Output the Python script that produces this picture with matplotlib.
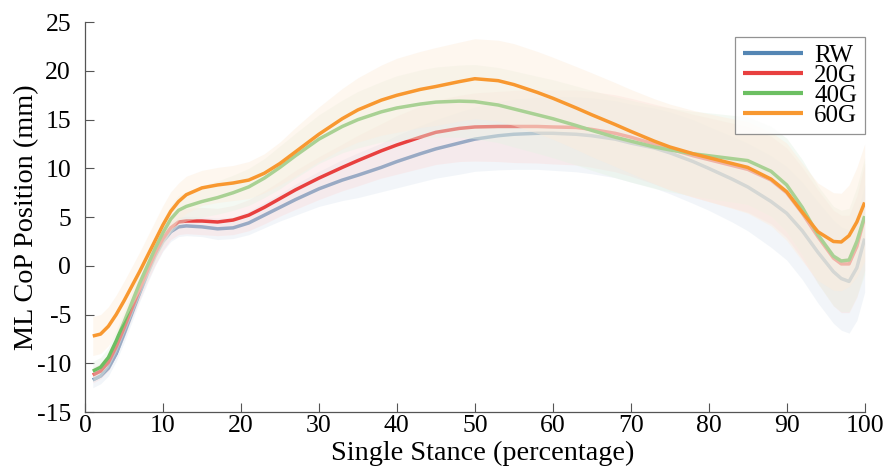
import numpy as np
import matplotlib
matplotlib.use('Agg')
import matplotlib.pyplot as plt
from matplotlib.colors import to_rgb

# percentage of single stance
x = [1, 2, 3, 4, 5, 6, 7, 8, 9, 10, 11, 12, 13, 15, 17, 19, 21, 23, 25, 27,
     30, 33, 35, 38, 40, 43, 45, 48, 50, 53, 55, 58, 60, 63, 65, 68, 70, 73, 75, 78,
     80, 83, 85, 88, 90, 92, 94, 96, 97, 98, 99, 100]

# mean ML CoP position (mm)
rw = [-11.7, -11.3, -10.5, -9.0, -7.0, -4.9, -2.8, -0.8, 1.0, 2.5, 3.5, 4.0, 4.1, 4.0, 3.8, 3.9, 4.4, 5.2, 6.0, 6.8,
      7.9, 8.8, 9.3, 10.1, 10.7, 11.5, 12.0, 12.6, 13.0, 13.35, 13.5, 13.6, 13.6, 13.5, 13.35, 13.0, 12.6, 12.1, 11.6, 10.7,
      10.0, 8.9, 8.1, 6.6, 5.4, 3.6, 1.4, -0.6, -1.3, -1.6, -0.2, 2.8]
g20 = [-11.2, -10.8, -9.9, -8.3, -6.4, -4.4, -2.4, -0.5, 1.3, 2.8, 3.9, 4.5, 4.6, 4.6, 4.5, 4.7, 5.2, 6.0, 6.9, 7.8,
       9.0, 10.1, 10.8, 11.8, 12.4, 13.2, 13.7, 14.1, 14.25, 14.3, 14.3, 14.3, 14.25, 14.2, 14.0, 13.6, 13.2, 12.5, 12.0, 11.3,
       10.9, 10.3, 9.9, 8.8, 7.5, 5.4, 3.0, 0.8, 0.2, 0.2, 2.0, 5.0]
g40 = [-10.8, -10.4, -9.4, -7.7, -5.8, -3.8, -1.8, 0.0, 1.8, 3.4, 4.8, 5.7, 6.1, 6.6, 7.0, 7.5, 8.1, 9.0, 10.1, 11.3,
       13.0, 14.3, 15.0, 15.8, 16.2, 16.6, 16.8, 16.9, 16.85, 16.5, 16.1, 15.5, 15.1, 14.4, 13.9, 13.2, 12.8, 12.2, 11.9, 11.5,
       11.3, 11.0, 10.8, 9.7, 8.3, 6.0, 3.2, 1.0, 0.5, 0.6, 2.5, 5.1]
g60 = [-7.2, -7.0, -6.2, -5.0, -3.6, -2.1, -0.6, 1.0, 2.6, 4.2, 5.6, 6.6, 7.3, 8.0, 8.3, 8.5, 8.8, 9.5, 10.5, 11.7,
       13.5, 15.1, 16.0, 17.0, 17.5, 18.1, 18.4, 18.9, 19.2, 19.0, 18.6, 17.8, 17.2, 16.2, 15.5, 14.5, 13.8, 12.8, 12.2, 11.5,
       11.1, 10.5, 10.1, 8.9, 7.6, 5.5, 3.5, 2.5, 2.45, 3.1, 4.5, 6.5]

# standard deviation (mm)
rw_sd = [0.8, 0.8, 0.8, 0.8, 0.9, 0.9, 0.9, 1.0, 1.0, 1.0, 1.0, 1.0, 1.0, 1.0, 1.1, 1.1, 1.2, 1.3, 1.4, 1.6,
         1.8, 2.1, 2.3, 2.5, 2.7, 2.9, 3.0, 3.2, 3.3, 3.5, 3.6, 3.7, 3.8, 3.85, 3.9, 3.95, 4.0, 4.1, 4.2, 4.3,
         4.3, 4.4, 4.5, 4.7, 4.8, 5.0, 5.2, 5.3, 5.3, 5.3, 5.4, 5.5]
g20_sd = [0.8, 0.8, 0.9, 0.9, 1.0, 1.0, 1.1, 1.1, 1.2, 1.2, 1.2, 1.3, 1.3, 1.4, 1.4, 1.5, 1.6, 1.7, 1.8, 2.0,
          2.2, 2.4, 2.6, 2.8, 3.0, 3.2, 3.3, 3.4, 3.5, 3.6, 3.7, 3.75, 3.8, 3.85, 3.9, 3.95, 4.0, 4.1, 4.2, 4.25,
          4.3, 4.35, 4.4, 4.5, 4.6, 4.7, 4.8, 4.9, 5.0, 5.0, 5.2, 5.5]
g40_sd = [1.0, 1.0, 1.0, 1.1, 1.1, 1.2, 1.2, 1.2, 1.3, 1.3, 1.4, 1.5, 1.5, 1.6, 1.7, 1.8, 1.9, 2.0, 2.2, 2.3,
          2.5, 2.7, 2.9, 3.1, 3.3, 3.5, 3.6, 3.7, 3.8, 3.85, 3.9, 3.95, 4.0, 4.05, 4.1, 4.15, 4.2, 4.25, 4.3, 4.35,
          4.4, 4.45, 4.5, 4.6, 4.8, 4.9, 5.0, 5.1, 5.2, 5.3, 5.6, 6.0]
g60_sd = [2.0, 2.0, 2.0, 2.0, 2.0, 2.0, 2.0, 2.0, 2.0, 2.0, 2.0, 1.9, 1.9, 1.8, 1.8, 1.8, 1.9, 2.0, 2.2, 2.5,
          2.8, 3.1, 3.3, 3.6, 3.8, 3.9, 4.0, 4.05, 4.1, 4.15, 4.2, 4.2, 4.2, 4.25, 4.3, 4.3, 4.3, 4.35, 4.4, 4.45,
          4.5, 4.6, 4.7, 4.8, 5.0, 5.0, 5.0, 5.0, 5.0, 5.2, 5.6, 6.0]

labels = ['RW', '20G', '40G', '60G']
colors = ['#5486b4', '#e8403f', '#6cbf62', '#f89830']

plt.rcParams['font.family'] = ['Liberation Serif', 'DejaVu Serif']
plt.rcParams['font.size'] = 18.5
plt.rcParams['axes.unicode_minus'] = False

fig = plt.figure(figsize=(8.88, 4.72), dpi=100)
ax = fig.add_axes([0.0957, 0.127, 0.878, 0.826])

xs = np.array(x)
z = 1
for mean, sd, lab, c in zip([rw, g20, g40, g60], [rw_sd, g20_sd, g40_sd, g60_sd], labels, colors):
    m = np.array(mean)
    s = np.array(sd)
    # pale shade of the line colour for the +-1 SD band; later bands wash out earlier lines
    pale = 0.18 * np.array(to_rgb(c)) + 0.82
    ax.fill_between(xs, m - s, m + s, color=pale, alpha=0.42, lw=0, zorder=z)
    ax.plot(xs, m, color=c, lw=2.5, label=lab, solid_capstyle='butt', solid_joinstyle='round', zorder=z + 1)
    z += 2

ax.set_xlim(0, 100)
ax.set_ylim(-15, 25)
ax.set_xticks(range(0, 101, 10))
ax.set_yticks(range(-15, 26, 5))

for side in ['top', 'right']:
    ax.spines[side].set_visible(False)
for side in ['left', 'bottom']:
    ax.spines[side].set_color('#555555')
    ax.spines[side].set_linewidth(0.9)
    ax.spines[side].set_zorder(20)
ax.tick_params(direction='in', length=6.5, width=0.8, color='#555555', labelsize=18.5)
ax.tick_params(axis='x', pad=2)
ax.tick_params(axis='y', pad=10)

ax.set_xlabel('Single Stance (percentage)', fontsize=20.3, labelpad=9)
ax.xaxis.set_label_coords(0.51, -0.075, transform=ax.transAxes)
ax.xaxis.label.set_va('top')
ax.set_ylabel('ML CoP Position (mm)', fontsize=20.3, labelpad=-2)

leg = ax.legend(loc='upper right', bbox_to_anchor=(1.0, 0.962), borderaxespad=0, fontsize=18,
                frameon=True, fancybox=False, handlelength=2.4, handletextpad=0.45,
                labelspacing=-0.1, borderpad=0.3)
leg.set_zorder(30)
leg.get_frame().set_edgecolor('#777777')
leg.get_frame().set_linewidth(0.9)
for line in leg.get_lines():
    line.set_linewidth(3)

fig.savefig('out.png', dpi=100)
